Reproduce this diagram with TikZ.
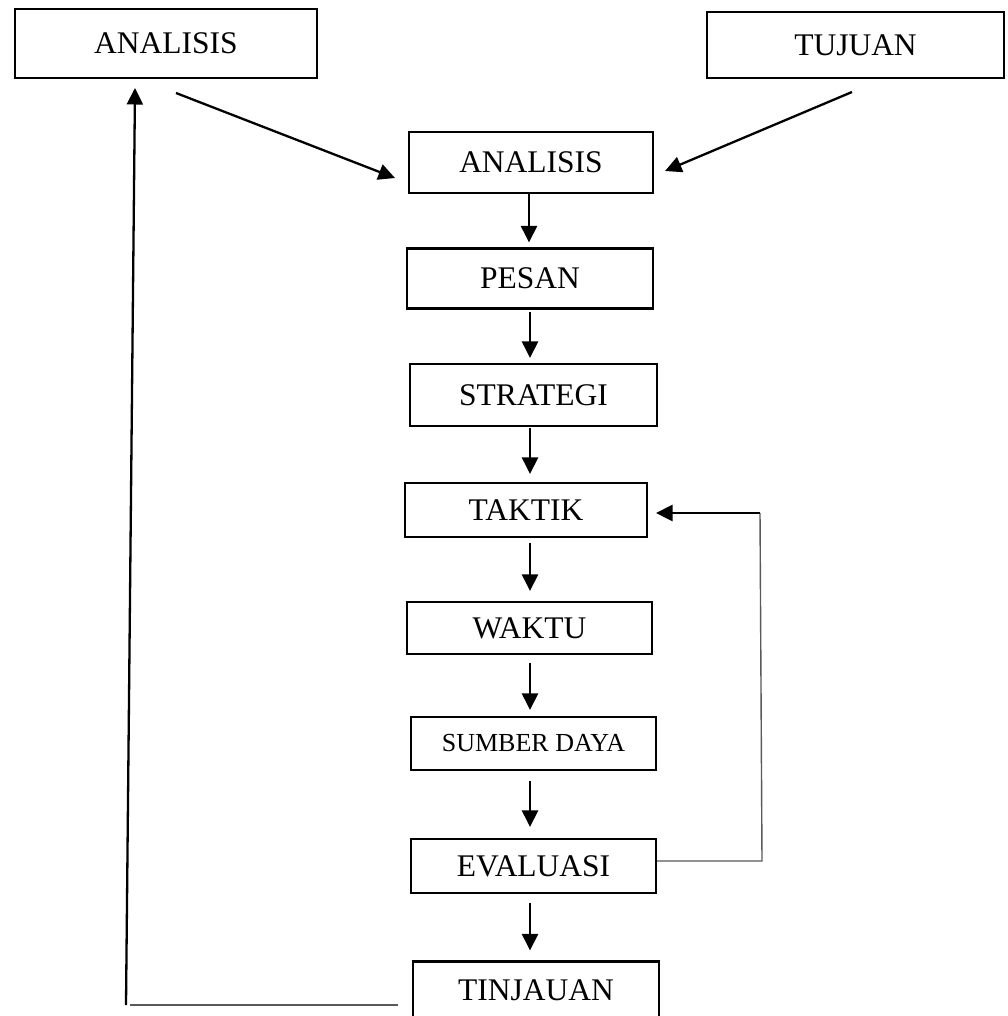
\documentclass[tikz,border=0pt]{standalone}
\usepackage{fontspec}
\setmainfont{Liberation Serif}
\usetikzlibrary{arrows.meta,calc}
\tikzset{
  box/.style={draw=black, line width=2.1pt, rectangle, inner sep=0pt, font=\fontsize{31.5}{36}\selectfont},
  arr/.style={draw=black, line width=2.3pt, -{Triangle[length=16.5pt,width=16pt]}},
  thinline/.style={draw=black!65, line width=1.4pt},
}
\begin{document}
\begin{tikzpicture}[x=1pt,y=-1pt]
\clip (0,0) rectangle (1007,1016);
\fill[white] (0,0) rectangle (1007,1016);
% top boxes
\node[box, minimum width=302pt, minimum height=69pt] (a1) at (166,43.5) {ANALISIS};
\node[box, minimum width=297pt, minimum height=66pt] (tuj) at (855.5,45) {TUJUAN};
% centre column
\node[box, minimum width=244pt, minimum height=61pt] (a2) at (531,162.5) {ANALISIS};
\node[box, minimum width=246pt, minimum height=60pt] (pesan) at (530,278.5) {PESAN};
\node[box, minimum width=247pt, minimum height=62pt] (strat) at (533.5,395) {STRATEGI};
\node[box, minimum width=242pt, minimum height=54pt] (taktik) at (526,510) {TAKTIK};
\node[box, minimum width=245pt, minimum height=52pt] (waktu) at (529.5,628) {WAKTU};
\node[box, minimum width=245pt, minimum height=53pt, font=\fontsize{26}{30}\selectfont] (sumber) at (533.5,743.5) {SUMBER DAYA};
\node[box, minimum width=245pt, minimum height=54pt] (eval) at (533.5,866) {EVALUASI};
\node[box, minimum width=246pt, minimum height=57pt] (tinj) at (536,990) {TINJAUAN};
% diagonal inputs
\coordinate (s1) at (176,93);
\coordinate (t1) at (395,178);
\coordinate (s2) at (852,92);
\coordinate (t2) at (665,171);
\draw[arr] (s1) -- (t1);
\draw[arr] (s2) -- (t2);
% main chain
\draw[arr, shorten >=5pt] (a2.south -| 529,0) -- (pesan.north -| 529,0);
\draw[arr, shorten <=2pt, shorten >=5pt] (pesan.south -| 530,0) -- (strat.north -| 530,0);
\draw[arr, shorten <=1pt, shorten >=8pt] (strat.south -| 530,0) -- (taktik.north -| 530,0);
\draw[arr, shorten <=5pt, shorten >=10pt] (taktik.south -| 530,0) -- (waktu.north -| 530,0);
\draw[arr, shorten <=8pt, shorten >=6pt] (waktu.south -| 530,0) -- (sumber.north -| 530,0);
\draw[arr, shorten <=10pt, shorten >=11pt] (sumber.south -| 530,0) -- (eval.north -| 530,0);
\draw[arr, shorten <=9pt, shorten >=10pt] (eval.south -| 530,0) -- (tinj.north -| 530,0);
% right feedback loop
\coordinate (r1) at (762,861);
\coordinate (r2) at (760,513);
\coordinate (r3) at (656,513);
\draw[thinline] (eval.east |- r1) -- (r1) -- (r2);
\draw[arr] (r2) -- (r3);
% left feedback loop
\coordinate (l1) at (398,1005);
\coordinate (l2) at (130,1005);
\coordinate (l3) at (126,1005);
\coordinate (l4) at (135,88);
\draw[thinline] (l1) -- (l2);
\draw[arr] (l3) -- (l4);
\end{tikzpicture}
\end{document}
